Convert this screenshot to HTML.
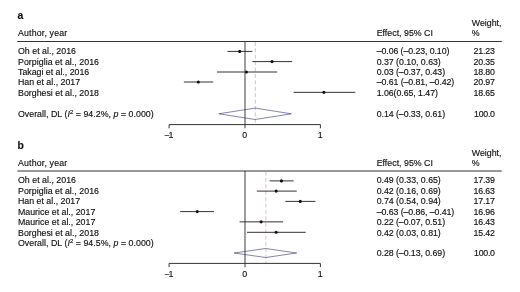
<!DOCTYPE html>
<html><head><meta charset="utf-8"><title>Forest plot</title>
<style>
html,body{margin:0;padding:0;background:#fff;overflow:hidden;}
svg{display:block;}
text{font-family:"Liberation Sans",sans-serif;font-size:8.8px;fill:#111;stroke:#111;stroke-width:0.15px;}
.b{font-weight:bold;font-size:10.4px;}
.i{font-style:italic;}
.k{stroke:#333;stroke-width:1;}
.z{stroke:#333;stroke-width:0.95;}
.r{stroke:#c27a90;stroke-width:0.5;stroke-dasharray:4 2.4;fill:none;}
.d{fill:none;stroke:#42427e;stroke-width:0.65;}
</style></head><body>
<svg width="520" height="292" viewBox="0 0 520 292">
<rect width="520" height="292" fill="#fff"/>
<text x="17.60" y="18.90" class="b">a</text>
<text x="18.00" y="36.00" textLength="49.2" lengthAdjust="spacing">Author, year</text>
<text x="376.70" y="36.00" textLength="56.2" lengthAdjust="spacing">Effect, 95% CI</text>
<text x="471.80" y="26.00" textLength="29.6" lengthAdjust="spacing">Weight,</text>
<text x="471.80" y="36.00">%</text>
<line x1="17.3" x2="501.8" y1="41.5" y2="41.5" class="k"/>
<line x1="245" x2="245" y1="41.5" y2="128.29999999999998" class="z"/>
<line x1="255.33" x2="255.33" y1="42.0" y2="124.6" class="r"/>
<path d="M169.1 128.29999999999998 V124.6 H320.4 V128.29999999999998" class="k" fill="none"/>
<text y="138.30"><tspan x="164.2">−</tspan><tspan x="168.45">1</tspan></text>
<text x="244.80" y="138.30" text-anchor="middle">0</text>
<text x="320.30" y="138.30" text-anchor="middle">1</text>
<text x="18.00" y="54.00" textLength="58" lengthAdjust="spacing">Oh et al., 2016</text>
<text x="376.70" y="54.00" textLength="72.7" lengthAdjust="spacing">–0.06 (–0.23, 0.10)</text>
<text x="473.40" y="54.00" textLength="21.6" lengthAdjust="spacing">21.23</text>
<line x1="227.50" x2="252.32" y1="51.40" y2="51.40" class="k"/>
<circle cx="239.69" cy="51.40" r="1.55" fill="#111"/>
<text x="18.00" y="65.00" textLength="81" lengthAdjust="spacing">Porpiglia et al., 2016</text>
<text x="376.70" y="65.00" textLength="64.1" lengthAdjust="spacing">0.37 (0.10, 0.63)</text>
<text x="473.40" y="65.00" textLength="21.6" lengthAdjust="spacing">20.35</text>
<line x1="252.32" x2="292.18" y1="61.60" y2="61.60" class="k"/>
<circle cx="272.02" cy="61.60" r="1.55" fill="#111"/>
<text x="18.00" y="75.00" textLength="71.2" lengthAdjust="spacing">Takagi et al., 2016</text>
<text x="376.70" y="75.00" textLength="68.4" lengthAdjust="spacing">0.03 (–0.37, 0.43)</text>
<text x="473.40" y="75.00" textLength="21.6" lengthAdjust="spacing">18.80</text>
<line x1="216.98" x2="277.14" y1="72.00" y2="72.00" class="k"/>
<circle cx="246.46" cy="72.00" r="1.55" fill="#111"/>
<text x="18.00" y="85.00" textLength="62.1" lengthAdjust="spacing">Han et al., 2017</text>
<text x="376.70" y="85.00" textLength="77.6" lengthAdjust="spacing">–0.61 (–0.81, –0.42)</text>
<text x="473.40" y="85.00" textLength="21.6" lengthAdjust="spacing">20.97</text>
<line x1="183.89" x2="213.22" y1="82.00" y2="82.00" class="k"/>
<circle cx="198.33" cy="82.00" r="1.55" fill="#111"/>
<text x="18.00" y="96.00" textLength="81" lengthAdjust="spacing">Borghesi et al., 2018</text>
<text x="376.70" y="96.00" textLength="61.2" lengthAdjust="spacing">1.06(0.65, 1.47)</text>
<text x="473.40" y="96.00" textLength="21.6" lengthAdjust="spacing">18.65</text>
<line x1="293.68" x2="355.34" y1="92.35" y2="92.35" class="k"/>
<circle cx="323.91" cy="92.35" r="1.55" fill="#111"/>
<text x="17.9" y="116.60" textLength="135.8" lengthAdjust="spacing">Overall, DL (<tspan class="i">I</tspan><tspan dy="-3" font-size="6">2</tspan><tspan dy="3"> = 94.2%, </tspan><tspan class="i">p</tspan> = 0.000)</text>
<text x="376.70" y="117.00" textLength="68.4" lengthAdjust="spacing">0.14 (–0.33, 0.61)</text>
<text x="474.00" y="117.00" textLength="21" lengthAdjust="spacing">100.0</text>
<path d="M218.8 113.8 L255.2 108.1 L291.3 113.8 L255.2 119.5 Z" class="d"/>
<text x="17.60" y="148.50" class="b">b</text>
<text x="18.00" y="165.60" textLength="49.2" lengthAdjust="spacing">Author, year</text>
<text x="376.70" y="165.60" textLength="56.2" lengthAdjust="spacing">Effect, 95% CI</text>
<text x="471.80" y="155.60" textLength="29.6" lengthAdjust="spacing">Weight,</text>
<text x="471.80" y="165.60">%</text>
<line x1="17.3" x2="501.8" y1="171.0" y2="171.0" class="k"/>
<line x1="245" x2="245" y1="171.0" y2="267.09999999999997" class="z"/>
<line x1="265.86" x2="265.86" y1="171.5" y2="263.4" class="r"/>
<path d="M169.1 267.09999999999997 V263.4 H320.4 V267.09999999999997" class="k" fill="none"/>
<text y="277.10"><tspan x="164.2">−</tspan><tspan x="168.45">1</tspan></text>
<text x="244.80" y="277.10" text-anchor="middle">0</text>
<text x="320.30" y="277.10" text-anchor="middle">1</text>
<text x="18.00" y="183.00" textLength="58" lengthAdjust="spacing">Oh et al., 2016</text>
<text x="376.70" y="183.00" textLength="64.1" lengthAdjust="spacing">0.49 (0.33, 0.65)</text>
<text x="473.40" y="183.00" textLength="21.6" lengthAdjust="spacing">17.39</text>
<line x1="269.62" x2="293.68" y1="180.90" y2="180.90" class="k"/>
<circle cx="281.45" cy="180.90" r="1.55" fill="#111"/>
<text x="18.00" y="194.00" textLength="81" lengthAdjust="spacing">Porpiglia et al., 2016</text>
<text x="376.70" y="194.00" textLength="64.1" lengthAdjust="spacing">0.42 (0.16, 0.69)</text>
<text x="473.40" y="194.00" textLength="21.6" lengthAdjust="spacing">16.63</text>
<line x1="256.83" x2="296.69" y1="191.10" y2="191.10" class="k"/>
<circle cx="276.18" cy="191.10" r="1.55" fill="#111"/>
<text x="18.00" y="204.00" textLength="62.1" lengthAdjust="spacing">Han et al., 2017</text>
<text x="376.70" y="204.00" textLength="64.1" lengthAdjust="spacing">0.74 (0.54, 0.94)</text>
<text x="473.40" y="204.00" textLength="21.6" lengthAdjust="spacing">17.17</text>
<line x1="285.41" x2="315.49" y1="201.40" y2="201.40" class="k"/>
<circle cx="300.25" cy="201.40" r="1.55" fill="#111"/>
<text x="18.00" y="215.00" textLength="77.3" lengthAdjust="spacing">Maurice et al., 2017</text>
<text x="376.70" y="215.00" textLength="77.6" lengthAdjust="spacing">–0.63 (–0.86, –0.41)</text>
<text x="473.40" y="215.00" textLength="21.6" lengthAdjust="spacing">16.96</text>
<line x1="180.13" x2="213.97" y1="211.60" y2="211.60" class="k"/>
<circle cx="197.22" cy="211.60" r="1.55" fill="#111"/>
<text x="18.00" y="225.00" textLength="77.3" lengthAdjust="spacing">Maurice et al., 2017</text>
<text x="376.70" y="225.00" textLength="68.4" lengthAdjust="spacing">0.22 (–0.07, 0.51)</text>
<text x="473.40" y="225.00" textLength="21.6" lengthAdjust="spacing">16.43</text>
<line x1="239.54" x2="283.15" y1="221.85" y2="221.85" class="k"/>
<circle cx="261.14" cy="221.85" r="1.55" fill="#111"/>
<text x="18.00" y="236.00" textLength="81" lengthAdjust="spacing">Borghesi et al., 2018</text>
<text x="376.70" y="236.00" textLength="64.1" lengthAdjust="spacing">0.42 (0.03, 0.81)</text>
<text x="473.40" y="236.00" textLength="21.6" lengthAdjust="spacing">15.42</text>
<line x1="247.06" x2="305.71" y1="232.30" y2="232.30" class="k"/>
<circle cx="276.18" cy="232.30" r="1.55" fill="#111"/>
<text x="17.9" y="245.80" textLength="135.8" lengthAdjust="spacing">Overall, DL (<tspan class="i">I</tspan><tspan dy="-3" font-size="6">2</tspan><tspan dy="3"> = 94.5%, </tspan><tspan class="i">p</tspan> = 0.000)</text>
<text x="376.70" y="256.00" textLength="68.4" lengthAdjust="spacing">0.28 (–0.13, 0.69)</text>
<text x="474.00" y="256.00" textLength="21" lengthAdjust="spacing">100.0</text>
<path d="M234.0 253 L265.7 248.5 L296.7 253 L265.7 257.5 Z" class="d"/>
</svg>
</body></html>
